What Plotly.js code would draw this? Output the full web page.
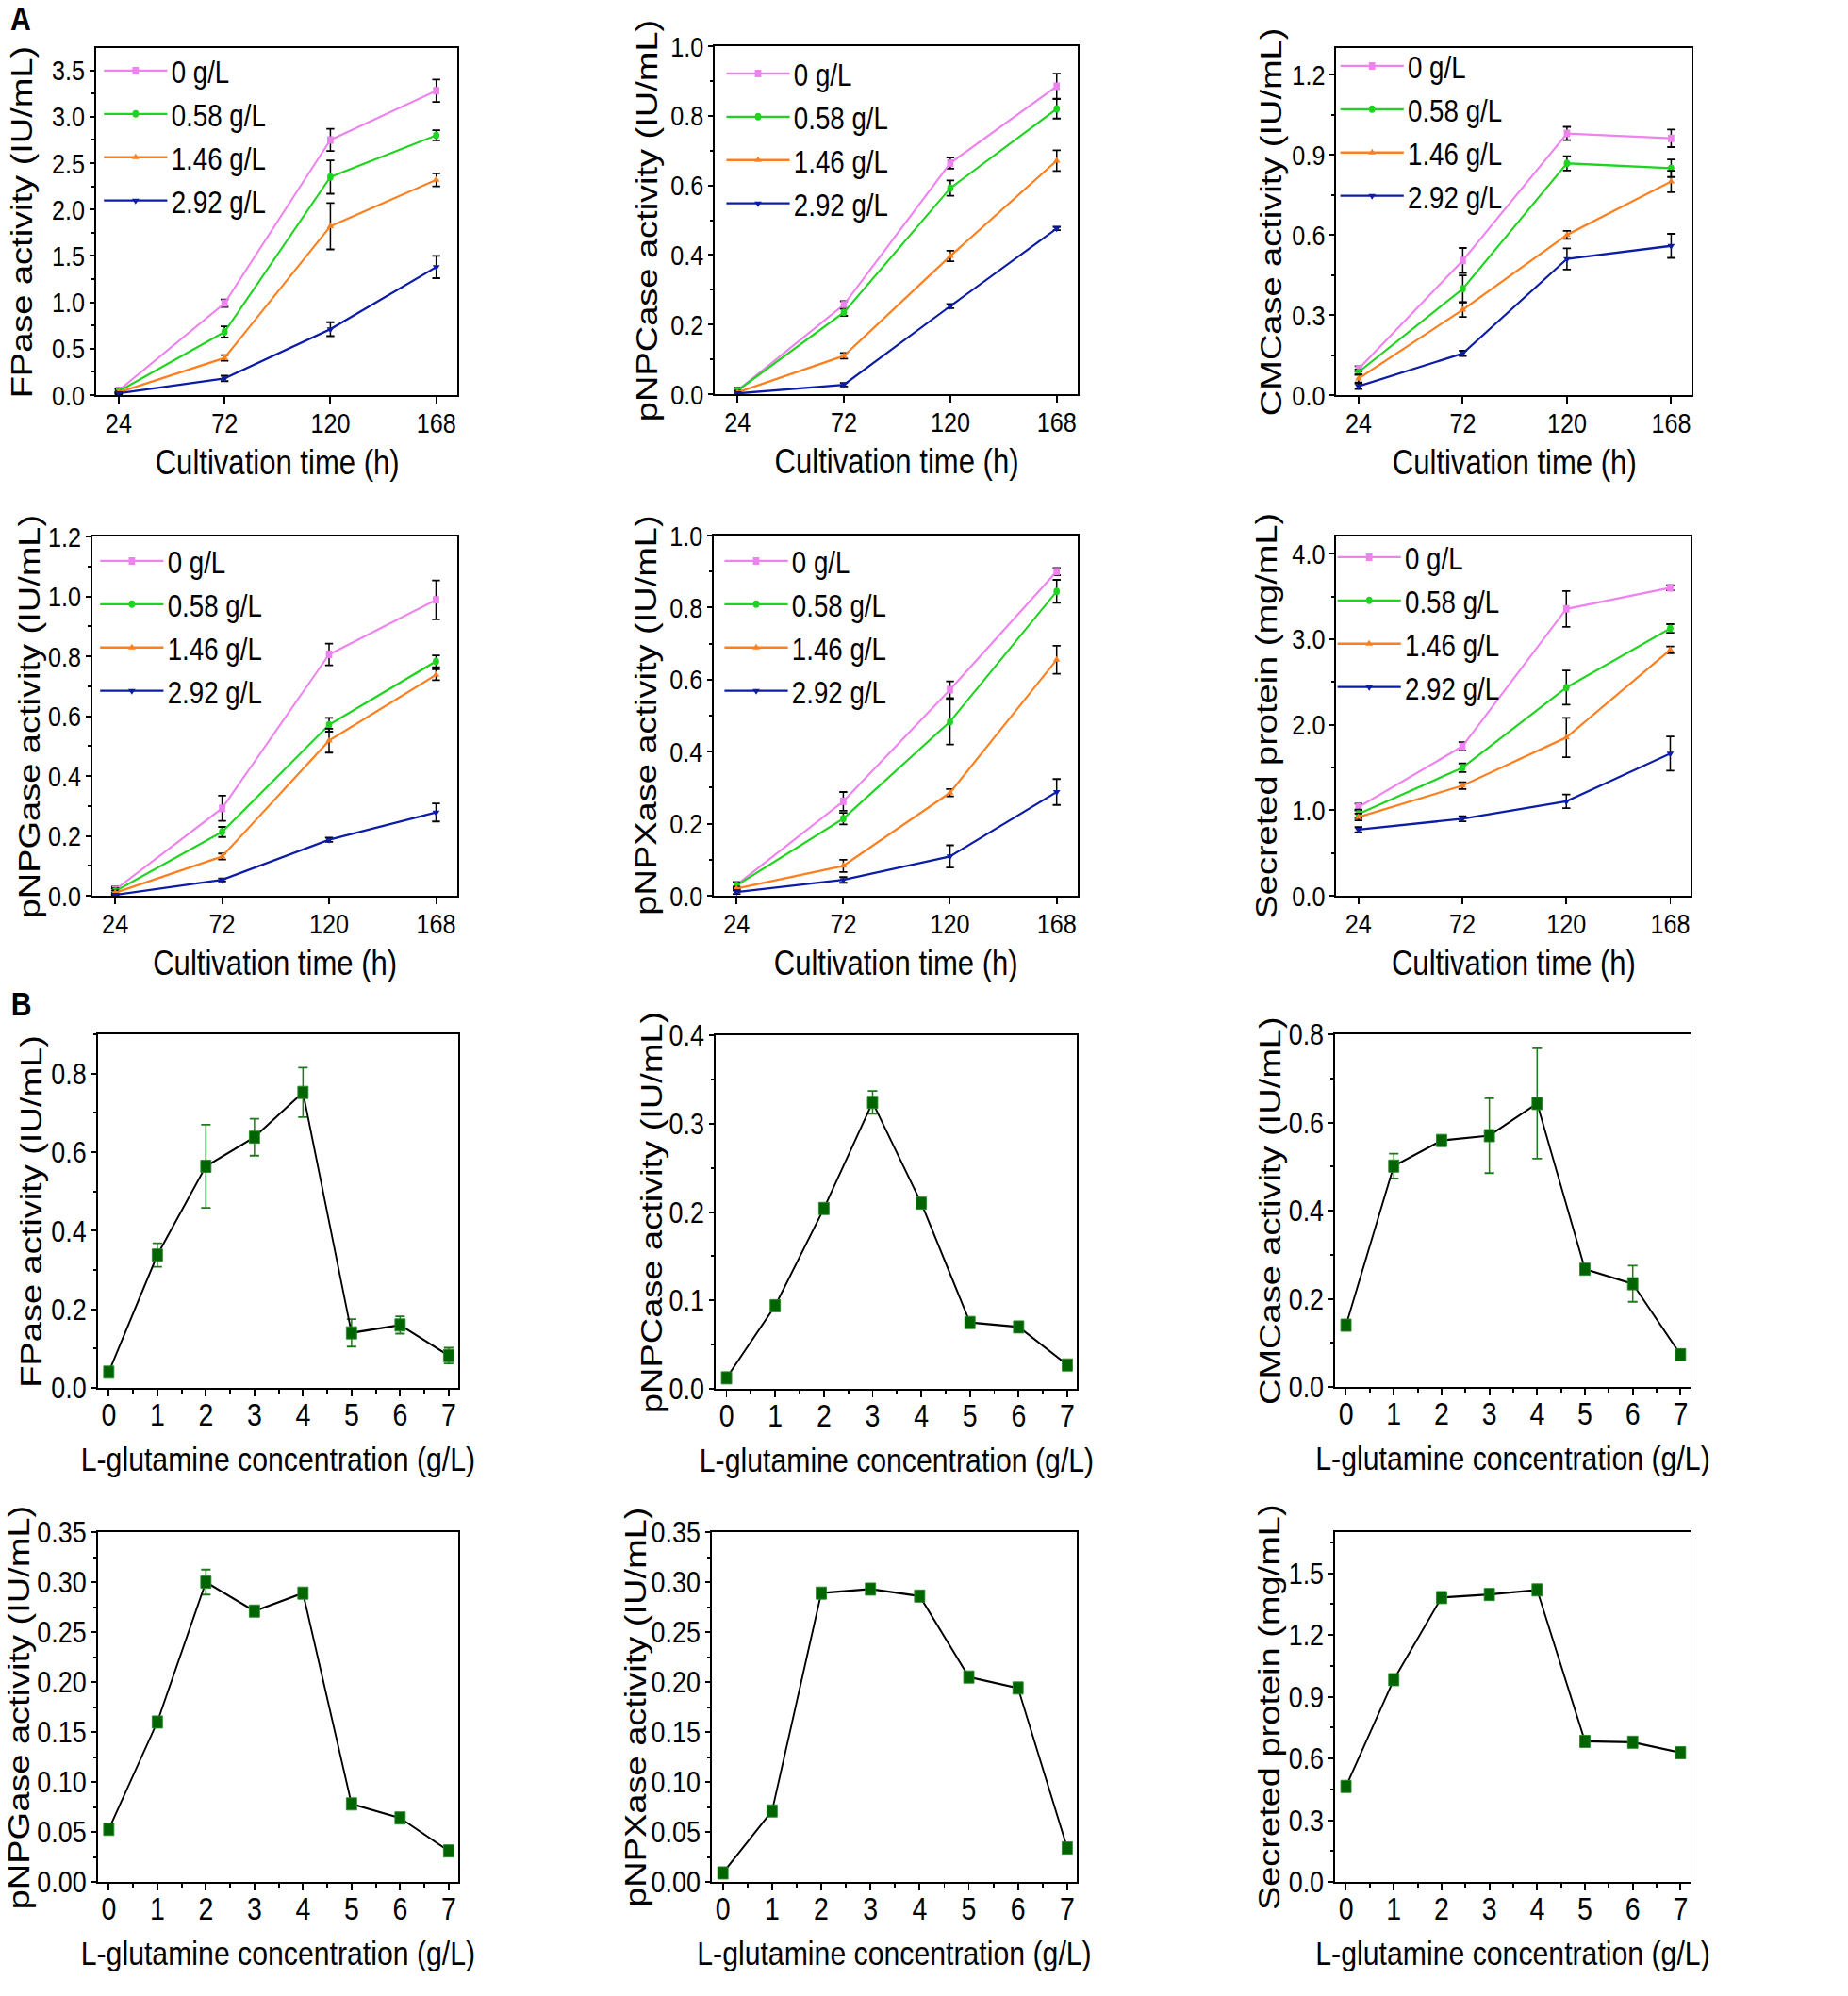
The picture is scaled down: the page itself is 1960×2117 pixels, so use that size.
<!DOCTYPE html>
<html>
<head>
<meta charset="utf-8">
<script src="https://cdn.plot.ly/plotly-3.0.1.min.js"></script>
<style>
  html, body { margin: 0; padding: 0; background: white; overflow: hidden; }
  /* the source figure is squeezed horizontally; reproduce it by drawing wider and scaling x */
  #plot { width: 2334px; height: 2117px; transform: scaleX(0.84); transform-origin: 0 0; }
</style>
</head>
<body>
<div id="plot"></div>
<script>
// ================================
// Panel A: time courses, Panel B: L-glutamine dose response
// ================================

// ---- Panel A data ----
const times = [24, 72, 120, 168];
const doses = ["0 g/L", "0.58 g/L", "1.46 g/L", "2.92 g/L"];

const fpaseA = [[0.05, 0.99, 2.75, 3.28], [0.04, 0.68, 2.35, 2.80], [0.03, 0.40, 1.82, 2.32], [0.02, 0.18, 0.71, 1.38]];
const fpaseAErr = [[0.02, 0.04, 0.12, 0.12], [0.02, 0.06, 0.18, 0.055], [0.01, 0.03, 0.25, 0.07], [0.01, 0.03, 0.075, 0.12]];

const pnpcA = [[0.01, 0.257, 0.664, 0.885], [0.01, 0.235, 0.592, 0.82], [0.005, 0.11, 0.397, 0.671], [0.002, 0.027, 0.253, 0.476]];
const pnpcAErr = [[0.008, 0.01, 0.016, 0.036], [0.008, 0.01, 0.022, 0.028], [0.005, 0.008, 0.015, 0.03], [0.003, 0.005, 0.006, 0.005]];

const cmcA = [[0.098, 0.504, 0.98, 0.962], [0.086, 0.398, 0.868, 0.85], [0.062, 0.32, 0.60, 0.80], [0.033, 0.156, 0.51, 0.559]];
const cmcAErr = [[0.01, 0.047, 0.025, 0.033], [0.01, 0.05, 0.027, 0.033], [0.015, 0.027, 0.015, 0.04], [0.01, 0.01, 0.04, 0.045]];

const pnpgA = [[0.02, 0.292, 0.806, 0.988], [0.015, 0.213, 0.571, 0.783], [0.01, 0.131, 0.518, 0.738], [0.003, 0.053, 0.187, 0.278]];
const pnpgAErr = [[0.01, 0.042, 0.036, 0.065], [0.01, 0.017, 0.023, 0.02], [0.008, 0.01, 0.04, 0.018], [0.003, 0.005, 0.007, 0.03]];

const pnpxA = [[0.03, 0.262, 0.572, 0.90], [0.029, 0.214, 0.483, 0.845], [0.02, 0.083, 0.286, 0.655], [0.01, 0.044, 0.109, 0.288]];
const pnpxAErr = [[0.008, 0.026, 0.023, 0.01], [0.008, 0.016, 0.063, 0.032], [0.005, 0.017, 0.01, 0.039], [0.005, 0.008, 0.031, 0.036]];

const protA = [[1.037, 1.746, 3.353, 3.60], [0.956, 1.496, 2.434, 3.125], [0.92, 1.287, 1.85, 2.875], [0.772, 0.90, 1.103, 1.662]];
const protAErr = [[0.04, 0.05, 0.21, 0.03], [0.05, 0.05, 0.2, 0.05], [0.04, 0.04, 0.23, 0.04], [0.03, 0.03, 0.08, 0.2]];

// ---- Panel B data ----
const glutamine = [0, 1, 2, 3, 4, 5, 6, 7];
const fpaseB = [0.04, 0.338, 0.564, 0.638, 0.752, 0.14, 0.16, 0.082];
const fpaseBErr = [0.01, 0.03, 0.106, 0.047, 0.063, 0.035, 0.022, 0.02];
const pnpcB = [0.0124, 0.094, 0.204, 0.324, 0.21, 0.075, 0.070, 0.027];
const pnpcBErr = [0.003, 0.004, 0.004, 0.013, 0.004, 0.003, 0.003, 0.003];
const cmcB = [0.14, 0.501, 0.559, 0.57, 0.643, 0.267, 0.234, 0.073];
const cmcBErr = [0.012, 0.028, 0.005, 0.085, 0.125, 0.005, 0.041, 0.012];
const pnpgB = [0.0526, 0.16, 0.30, 0.271, 0.289, 0.078, 0.064, 0.031];
const pnpgBErr = [0.003, 0.002, 0.0125, 0.002, 0.002, 0.003, 0.003, 0.002];
const pnpxB = [0.009, 0.071, 0.289, 0.293, 0.286, 0.205, 0.194, 0.034];
const pnpxBErr = [0.002, 0.002, 0.002, 0.002, 0.005, 0.002, 0.002, 0.002];
const protB = [0.464, 0.983, 1.382, 1.397, 1.419, 0.683, 0.679, 0.628];
const protBErr = [0.01, 0.01, 0.01, 0.01, 0.01, 0.01, 0.01, 0.01];

const yTitles = [
  "FPase activity (IU/mL)", "pNPCase activity (IU/mL)", "CMCase activity (IU/mL)",
  "pNPGase activity (IU/mL)", "pNPXase activity (IU/mL)", "Secreted protein (mg/mL)"
];

// -------------------------------
// styling
// -------------------------------
const W = 1960, H = 2117;
const SX = 0.84;              // horizontal squeeze applied by CSS
const GW = 2334;              // drawing width before the squeeze
const SANS = "Liberation Sans, Arial, sans-serif";
const doseColors = ["#ee82ee", "#1ed41e", "#ff7f1e", "#0c1ca6"];
const doseSymbols = ["square", "circle", "triangle-up", "triangle-down"];

// plot boxes in final pixels: [left, right, top, bottom]
const boxes = [
  [102, 485, 51, 419], [758, 1143, 49, 418], [1417, 1794, 51, 419],
  [98, 485, 569, 950], [757, 1143, 568, 950], [1417, 1793, 569, 950],
  [104, 486, 1097, 1472], [759, 1142, 1098, 1473], [1416, 1792, 1097, 1471],
  [104, 486, 1625, 1996], [755, 1142, 1625, 1996], [1416, 1792, 1625, 1996]
];
// y title centre, final px left of the axis line
const yTitleShift = [-79, -73, -69, -67, -72, -75, -71, -69, -69, -84, -82, -71];
const yRanges = [[0, 3.74], [0, 1.0], [0, 1.3], [0, 1.2], [0, 1.0], [0, 4.2],
                 [0, 0.9], [0, 0.4], [0, 0.8], [0, 0.35], [0, 0.35], [0, 1.7]];
const yDticks = [0.5, 0.2, 0.3, 0.2, 0.2, 1.0, 0.2, 0.1, 0.2, 0.05, 0.05, 0.3];
const yFormats = [".1f", ".1f", ".1f", ".1f", ".1f", ".1f", ".1f", ".1f", ".1f", ".2f", ".2f", ".1f"];
// legend first-row position inside panels A: [line start from left axis, row centre from top]
const legendOffsets = [[10, 26], [14, 31], [6, 21], [10, 28], [13, 29], [3, 24]];

const aMeans = [fpaseA, pnpcA, cmcA, pnpgA, pnpxA, protA];
const aErrs = [fpaseAErr, pnpcAErr, cmcAErr, pnpgAErr, pnpxAErr, protAErr];
const bMeans = [fpaseB, pnpcB, cmcB, pnpgB, pnpxB, protB];
const bErrs = [fpaseBErr, pnpcBErr, cmcBErr, pnpgBErr, pnpxBErr, protBErr];

const traces = [];
const layout = {
  width: GW,
  height: H,
  margin: { l: 0, r: 0, t: 0, b: 0 },
  paper_bgcolor: "white",
  plot_bgcolor: "white",
  showlegend: true,
  annotations: []
};

function axisId(i) { return i === 0 ? "" : String(i + 1); }

for (let i = 0; i < 12; i++) {
  const b = boxes[i];
  const id = axisId(i);
  const isA = i < 6;
  const xKey = "xaxis" + id, yKey = "yaxis" + id;

  layout[xKey] = {
    domain: [b[0] / W, b[1] / W],
    anchor: "y" + id,
    range: isA ? [13.8, 177.6] : [-0.22, 7.2],
    tickvals: isA ? times : glutamine,
    ticks: "outside",
    ticklen: 7,
    tickwidth: 2.2,
    tickcolor: "black",
    ticklabelstandoff: isA ? -5 : -10,
    minor: isA ? undefined : { dtick: 0.5, tick0: 0, ticks: "outside", ticklen: 4, tickwidth: 2.2, tickcolor: "black" },
    showline: true,
    linecolor: "black",
    linewidth: 2,
    mirror: true,
    showgrid: false,
    zeroline: false,
    tickfont: { family: SANS, size: isA ? 30 : 34, color: "black" }
  };
  layout[yKey] = {
    domain: [1 - b[3] / H, 1 - b[2] / H],
    anchor: "x" + id,
    range: yRanges[i],
    dtick: yDticks[i],
    tick0: 0,
    tickformat: yFormats[i],
    ticks: "outside",
    ticklen: 6,
    tickwidth: 2,
    tickcolor: "black",
    minor: { dtick: yDticks[i] / 2, tick0: 0, ticks: "outside", ticklen: 4, tickwidth: 2, tickcolor: "black" },
    showline: true,
    linecolor: "black",
    linewidth: 2.3,
    mirror: true,
    showgrid: false,
    zeroline: false,
    tickfont: { family: SANS, size: isA ? 30 : 32, color: "black" }
  };

  // axis titles
  layout.annotations.push({
    xref: "x" + id + " domain", yref: "y" + id + " domain",
    x: 0, y: 0.5, xanchor: "center", yanchor: "middle",
    xshift: yTitleShift[i] / SX, textangle: -90, showarrow: false,
    text: yTitles[i % 6],
    font: { family: SANS, size: 38, color: "black" }
  });
  layout.annotations.push({
    xref: "x" + id + " domain", yref: "y" + id + " domain",
    x: 0.5, y: 0, xanchor: "center", yanchor: "middle",
    yshift: isA ? -71 : -75, showarrow: false,
    text: isA ? "Cultivation time (h)" : "L-glutamine concentration (g/L)",
    font: { family: SANS, size: isA ? 37 : 36, color: "black" }
  });

  if (isA) {
    const legKey = i === 0 ? "legend" : "legend" + (i + 1);
    const off = legendOffsets[i];
    layout[legKey] = {
      x: (b[0] + off[0] - 6) / W,
      y: 1 - (b[2] + off[1] - 30) / H,
      xanchor: "left",
      yanchor: "top",
      bgcolor: "rgba(0,0,0,0)",
      borderwidth: 0,
      tracegroupgap: 0,
      itemwidth: 80,
      font: { family: SANS, size: 33, color: "black" }
    };
    for (let s = 0; s < 4; s++) {
      traces.push({
        type: "scatter",
        mode: "lines+markers",
        x: times,
        y: aMeans[i][s],
        name: doses[s],
        legend: legKey,
        xaxis: "x" + id,
        yaxis: "y" + id,
        line: { color: doseColors[s], width: 2.3 },
        marker: { symbol: doseSymbols[s], size: 8, color: doseColors[s] },
        error_y: { type: "data", array: aErrs[i][s], visible: true, color: "black", thickness: 1.8, width: 5 }
      });
    }
  } else {
    const k = i - 6;
    traces.push({
      type: "scatter",
      mode: "lines+markers",
      x: glutamine,
      y: bMeans[k],
      showlegend: false,
      xaxis: "x" + id,
      yaxis: "y" + id,
      line: { color: "black", width: 2.2 },
      marker: { symbol: "square", size: 13, color: "#006400", line: { color: "#2a8a2a", width: 1 } },
      error_y: { type: "data", array: bErrs[k], visible: true, color: "#1f7a1f", thickness: 1.8, width: 6 }
    });
  }
}

// panel letters
layout.annotations.push({
  xref: "paper", yref: "paper", x: 9 / W, y: 1 - 20 / H, xanchor: "left", yanchor: "middle",
  showarrow: false, text: "<b>A</b>", font: { family: SANS, size: 36, color: "black" }
});
layout.annotations.push({
  xref: "paper", yref: "paper", x: 10 / W, y: 1 - 1064 / H, xanchor: "left", yanchor: "middle",
  showarrow: false, text: "<b>B</b>", font: { family: SANS, size: 36, color: "black" }
});

Plotly.newPlot("plot", traces, layout, { displayModeBar: false, staticPlot: true });
</script>
</body>
</html>
